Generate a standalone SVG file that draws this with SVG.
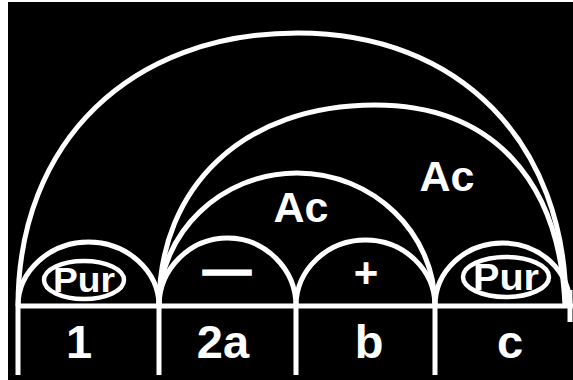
<svg xmlns="http://www.w3.org/2000/svg" width="573" height="380" viewBox="0 0 573 380">
<style>
.ln{fill:none;stroke:#fff;stroke-width:5;stroke-linecap:butt}
.t{fill:#fff;font-family:"Liberation Sans",Arial,sans-serif;font-weight:bold;text-anchor:middle}
.pur{fill:none;stroke:#fff;stroke-width:4.5}
</style>
<rect x="0" y="0" width="573" height="380" fill="#fff"/>
<rect x="8" y="2" width="565" height="378" fill="#000"/>
<g id="connectors">
<path class="ln" d="M18 306 C18 142 130 33 298 33 C459 33 566 142 566 306"/>
<path class="ln" d="M159 306 C159 185 245 105 375 105 C492 105 560 180 565 306"/>
<path class="ln" d="M159 306 C159 233 221 173 297 173 C373 173 435 233 435 306"/>
</g>
<g id="base">
<line class="ln" x1="16" y1="306" x2="573" y2="306"/>
<line class="ln" x1="570" y1="290" x2="570" y2="322"/>
</g>
<g id="cell-1">
<path class="ln" d="M18 375 L18 306 C18 271 50 242 88.5 242 C127 242 159 271 159 306"/>
<ellipse class="pur" cx="84" cy="280" rx="40" ry="19"/>
<text class="t" x="84" y="292" font-size="35" textLength="62" lengthAdjust="spacingAndGlyphs">Pur</text>
<text class="t" x="79" y="358" font-size="47">1</text>
</g>
<g id="cell-2a">
<path class="ln" d="M159 375 L159 306 C159 269 190 238 227.5 238 C265 238 296 269 296 306"/>
<text class="t" x="227" y="286" font-size="48" stroke="#fff" stroke-width="1.5">—</text>
<text class="t" x="223" y="358" font-size="47">2a</text>
</g>
<g id="cell-b">
<path class="ln" d="M296 375 L296 306 C296 270 327 240 365.5 240 C404 240 435 270 435 306"/>
<text class="t" x="366" y="287" font-size="42">+</text>
<text class="t" x="369" y="358" font-size="47">b</text>
</g>
<g id="cell-c">
<path class="ln" d="M435 375 L435 306 C435 271 465 243 502.5 243 C540 243 570 271 570 306"/>
<ellipse class="pur" cx="506" cy="277" rx="43" ry="20"/>
<text class="t" x="506" y="290" font-size="36" textLength="66" lengthAdjust="spacingAndGlyphs">Pur</text>
<text class="t" x="510" y="358" font-size="47">c</text>
</g>
<g id="label-ac-inner">
<text class="t" x="301" y="222" font-size="43">Ac</text>
</g>
<g id="label-ac-outer">
<text class="t" x="447" y="191" font-size="43">Ac</text>
</g>
</svg>
